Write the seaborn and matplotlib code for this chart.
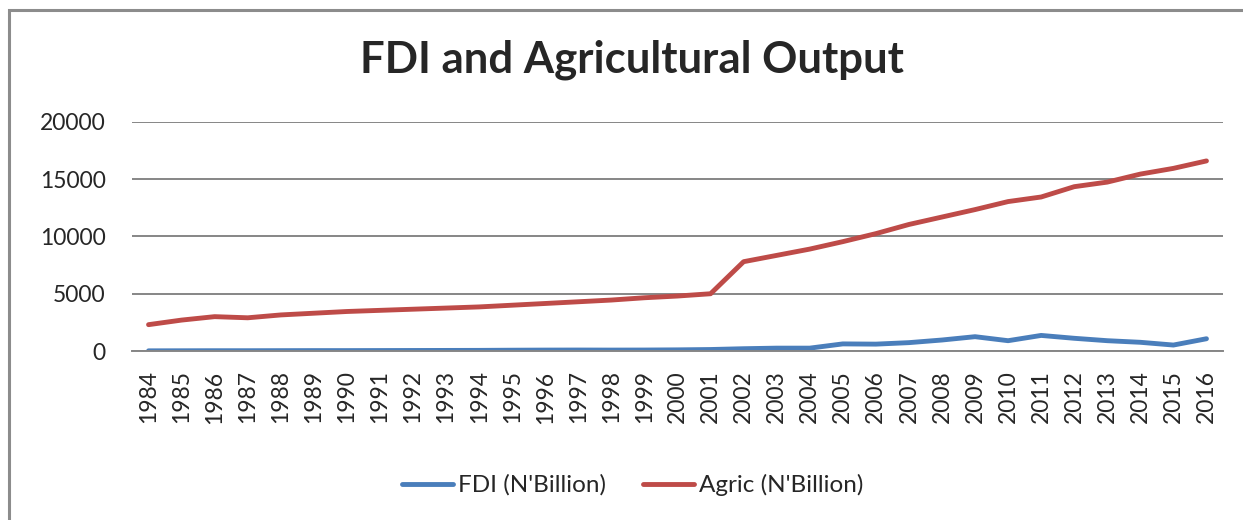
import matplotlib
matplotlib.use("Agg")
import matplotlib.pyplot as plt
from matplotlib.patches import Rectangle
import seaborn as sns
import pandas as pd

years = [str(y) for y in range(1984, 2017)]
fdi = [15, 20, 25, 25, 30, 35, 35, 40, 45, 50, 55, 70, 80, 85, 80, 85, 100, 130,
       200, 250, 250, 620, 600, 730, 960, 1250, 900, 1360, 1110, 900, 760, 520, 1070]
agric = [2300, 2700, 3000, 2900, 3150, 3300, 3450, 3550, 3650, 3750, 3850, 4000,
         4150, 4300, 4450, 4650, 4800, 5000, 7800, 8350, 8900, 9550, 10250, 11050,
         11700, 12350, 13050, 13450, 14350, 14750, 15450, 15950, 16600]
series_names = ["FDI (N'Billion)", "Agric (N'Billion)"]
y_ticks = [0, 5000, 10000, 15000, 20000]

df = pd.DataFrame({
    "Year": years * 2,
    "Value": fdi + agric,
    "Series": [series_names[0]] * len(years) + [series_names[1]] * len(years),
})

sns.set_style("white")
plt.rcParams["font.family"] = ["Lato", "DejaVu Sans"]

fig = plt.figure(figsize=(12.43, 5.20), dpi=100)
ax = fig.add_axes([0.1062, 0.325, 0.8777, 0.4404])

palette = {series_names[0]: "#4A7EBB", series_names[1]: "#BE4B48"}
sns.lineplot(data=df, x="Year", y="Value", hue="Series", palette=palette,
             linewidth=3.5, ax=ax, sort=False, solid_capstyle="round")

ax.set_xlim(-0.5, len(years) - 0.5)
ax.set_ylim(0, 20000)
ax.set_yticks(y_ticks)
ax.set_yticklabels([str(v) for v in y_ticks])
ax.yaxis.grid(True, color="#868686", linewidth=1.4)
ax.set_axisbelow(True)
for side in ["top", "right", "left"]:
    ax.spines[side].set_visible(False)
ax.spines["bottom"].set_color("#868686")
ax.spines["bottom"].set_linewidth(1.4)
ax.tick_params(axis="y", length=0, pad=19, labelsize=16.5)
ax.tick_params(axis="x", length=0, pad=14, labelsize=16.5, labelrotation=90)
ax.set_xlabel("")
ax.set_ylabel("")

fig.text(0.508, 0.885, "FDI and Agricultural Output", ha="center", va="center",
         fontsize=31.5, fontweight="bold")

ax.legend(loc="center", bbox_to_anchor=(0.459, -0.585), ncol=2, frameon=False,
          fontsize=17.5, handlelength=2.1, columnspacing=1.5, handletextpad=0.2)
for line in ax.get_legend().get_lines():
    line.set_linewidth(3.5)

# chart frame
fig.patches.append(Rectangle((9 / 1243, -0.05), 1.1, 1 - 10 / 520 + 0.05,
                             transform=fig.transFigure, fill=False,
                             edgecolor="#8C8C8C", linewidth=2.2))

fig.savefig("out.png", dpi=100)
